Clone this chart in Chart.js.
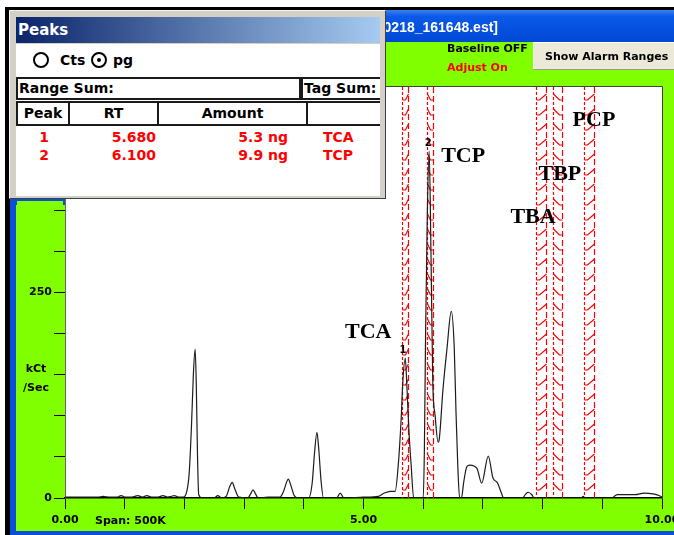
<!DOCTYPE html>
<html>
<head>
<meta charset="utf-8">
<script src="https://cdn.jsdelivr.net/npm/chart.js@4.4.1/dist/chart.umd.min.js"></script>
<style>
  html, body { margin: 0; padding: 0; background: #fff; }
  #wrap { position: relative; width: 674px; height: 535px; overflow: hidden; }
  #trace { position: absolute; left: 0; top: 0; }
  #peaks, #peaks * { font-family: "DejaVu Sans", sans-serif; font-weight: bold; box-sizing: border-box; }
  #peaks { position: absolute; left: 9px; top: 10px; width: 377px; height: 189px; background: #d4d0c8;
           border: 1px solid; border-color: #f4f4f4 #404040 #404040 #f4f4f4; }
  #peaks .cap { position: absolute; left: 6px; top: 6px; width: 364px; height: 26px; color: #fff;
                background: linear-gradient(to right, #0a246a, #a6caf0); font-size: 15px; line-height: 26px; padding-left: 2px; }
  #peaks .body { position: absolute; left: 6px; top: 33px; width: 364px; height: 152px; background: #fff; overflow: hidden; font-size: 14px; }
  .radio { position: absolute; top: 8px; width: 16px; height: 16px; border: 2px solid #000; border-radius: 50%; background: #fff; }
  .radio.on::after { content: ""; position: absolute; left: 4px; top: 4px; width: 4px; height: 4px; border-radius: 50%; background: #000; }
  .lbl { position: absolute; line-height: 18px; color: #000; }
  .box { position: absolute; border: 2px solid #1a1a1a; line-height: 19px; padding-left: 1px; white-space: nowrap; }
  .cell { position: absolute; top: 57px; height: 25px; border: 2px solid #1a1a1a; line-height: 21px; text-align: center; }
  .row { position: absolute; height: 18px; line-height: 18px; color: #ff0000; white-space: nowrap; }
</style>
</head>
<body>
<div id="wrap">
  <canvas id="trace" width="674" height="535"></canvas>
  <div id="peaks">
    <div class="cap">Peaks</div>
    <div class="body" id="peakBody">
      <div class="radio" style="left:17px"></div><div class="lbl" style="left:44px;top:7px">Cts</div>
      <div class="radio on" style="left:75px"></div><div class="lbl" style="left:97px;top:7px">pg</div>
      <div class="box" style="left:0;top:33px;width:285px;height:23px">Range Sum:</div>
      <div class="box" style="left:285px;top:33px;width:100px;height:23px">Tag Sum:</div>
      <div class="cell" style="left:0;width:54px">Peak</div>
      <div class="cell" style="left:52px;width:91px">RT</div>
      <div class="cell" style="left:141px;width:151px">Amount</div>
      <div class="cell" style="left:290px;width:100px"></div>
    </div>
  </div>
</div>
<script>
// chromatogram trace: retention time (min) and detector response (kCt/s)
const retentionTime = [
  0.00, 0.30, 0.55, 0.64, 0.75, 0.88, 0.94, 1.00, 1.12, 1.22, 1.30, 1.37, 1.45, 1.56, 1.64, 1.72, 1.78, 1.83, 1.90, 1.98,
  2.04, 2.08, 2.12, 2.15, 2.18, 2.20, 2.22, 2.24, 2.30, 2.50, 2.56, 2.62, 2.70, 2.76, 2.80, 2.84, 2.91,
  3.06, 3.11, 3.15, 3.19, 3.24, 3.40, 3.60, 3.66, 3.71, 3.74, 3.78, 3.84, 3.90,
  4.08, 4.14, 4.18, 4.22, 4.25, 4.29, 4.33, 4.55, 4.61, 4.67, 5.00, 5.25, 5.35, 5.45, 5.53,
  5.58, 5.63, 5.66, 5.70, 5.73, 5.76, 5.80, 5.84, 6.00, 6.02, 6.04, 6.07, 6.10, 6.13, 6.16, 6.20, 6.25, 6.27,
  6.33, 6.40, 6.47, 6.52, 6.55, 6.58, 6.61, 6.64, 6.68, 6.73, 6.78, 6.90, 6.98, 7.09, 7.17, 7.24, 7.30, 7.35,
  7.66, 7.72, 7.76, 7.82, 7.86, 8.65, 8.68, 8.71, 9.15, 9.25, 9.40, 9.55, 9.70, 9.85, 9.95, 10.00
];
const signal = [
  1, 1, 1, 2, 1, 1, 3, 1, 1, 3, 1, 3, 1, 1, 3, 1, 2, 3, 1, 1,
  8, 30, 90, 150, 181, 135, 50, 4, 0, 0, 3, 0, 2, 14, 19, 12, 1,
  0, 5, 10, 5, 0, 1, 1, 8, 19, 23, 16, 3, 0,
  0, 18, 55, 80, 60, 20, 0, 0, 6, 0, 1, 2, 6, 8, 8,
  38, 95, 143, 170, 131, 83, 38, 0, 0, 60, 200, 350, 422, 300, 143, 100, 68, 72,
  131, 183, 227, 183, 103, 38, 0, 0, 20, 38, 40, 36, 18, 51, 24, 19, 8, 0,
  0, 5, 7, 4, 0, 0, 2, 0, 0, 4, 4, 4, 6, 5, 3, 1
];

// integrated peaks
const peakNumber = [1, 2];
const peakRT = [5.680, 6.100];
const peakAmount = [5.3, 9.9];
const peakName = ['TCA', 'TCP'];

// alarm windows (min)
const alarmStart = [5.64, 6.06, 7.89, 8.17, 8.69];
const alarmEnd = [5.75, 6.17, 8.06, 8.33, 8.86];

// compound names written on the trace
const compoundLabel = ['TCA', 'TCP', 'TBA', 'TBP', 'PCP'];
const compoundTime = [5.08, 6.67, 7.84, 8.29, 8.86];
const compoundLevel = [202, 416, 341, 394, 459];

const yTickLabels = [0, 250];
const xTickLabels = [0, 5, 10];

// peak table rows
const body = document.getElementById('peakBody');
peakNumber.forEach((n, i) => {
  const top = 84 + i * 18;
  const cells = [
    [n, 'left:20px;width:16px;text-align:center'],
    [peakRT[i].toFixed(3), 'left:60px;width:80px;text-align:right'],
    [peakAmount[i].toFixed(1) + ' ng', 'left:160px;width:112px;text-align:right'],
    [peakName[i], 'left:307px;width:60px']
  ];
  cells.forEach(([txt, st]) => {
    const d = document.createElement('div');
    d.className = 'row';
    d.style.cssText = st + ';top:' + top + 'px';
    d.textContent = txt;
    body.appendChild(d);
  });
});

const UI = '"DejaVu Sans", sans-serif';

const chrome = {
  id: 'chrome',
  beforeDraw(chart) {
    const c = chart.ctx, a = chart.chartArea;
    c.save();
    c.fillStyle = '#fff';
    c.fillRect(0, 0, 674, 535);
    c.fillStyle = '#000';
    c.fillRect(5, 7, 669, 3);
    c.fillRect(5, 7, 5, 528);
    const g = c.createLinearGradient(0, 10, 0, 42);
    g.addColorStop(0, '#3a80f4');
    g.addColorStop(0.2, '#0a5ae8');
    g.addColorStop(1, '#0048d4');
    c.fillStyle = g;
    c.fillRect(10, 10, 664, 32);
    c.fillStyle = '#0b4fd6';
    c.fillRect(10, 42, 6, 493);
    c.fillRect(10, 531, 664, 4);
    c.fillStyle = '#80ff00';
    c.fillRect(16, 42, 658, 489);
    c.fillStyle = '#0b4fd6';
    c.fillRect(10, 199, 380, 6);
    c.fillStyle = '#80ff00';
    c.fillRect(17, 201, 46, 4);

    c.fillStyle = '#fff';
    c.font = 'bold 14px "Liberation Sans", sans-serif';
    c.textAlign = 'right';
    c.textBaseline = 'middle';
    c.fillText('Chromatogram - [20090218_161648.est]', 498, 28);

    c.textAlign = 'left';
    c.font = 'bold 11px ' + UI;
    c.fillStyle = '#000';
    c.fillText('Baseline OFF', 447, 49);
    c.fillStyle = '#ff0000';
    c.fillText('Adjust On', 447, 68);

    // button
    c.fillStyle = '#ece9d8';
    c.fillRect(533, 42, 141, 28);
    c.fillStyle = '#fff';
    c.fillRect(533, 42, 141, 1);
    c.fillRect(533, 42, 1, 28);
    c.fillStyle = '#9a9a9a';
    c.fillRect(533, 69, 141, 1);
    c.fillStyle = '#000';
    c.fillText('Show Alarm Ranges', 545, 57);

    c.textAlign = 'center';
    c.fillText('kCt', 36, 369);
    c.fillText('/Sec', 36, 388);
    c.textAlign = 'left';
    c.fillText('Span: 500K', 95, 521);

    c.fillStyle = '#fff';
    c.fillRect(a.left, a.top, a.right - a.left, a.bottom - a.top);
    c.restore();
  },
  afterDraw(chart) {
    const c = chart.ctx, a = chart.chartArea;
    c.save();
    c.strokeStyle = '#404040';
    c.lineWidth = 1;
    c.beginPath();
    c.moveTo(a.left, a.top - 0.5);
    c.lineTo(a.right + 0.5, a.top - 0.5);
    c.lineTo(a.right + 0.5, a.bottom);
    c.stroke();
    c.restore();
  }
};

// hatched alarm windows
const alarms = {
  id: 'alarms',
  beforeDatasetsDraw(chart) {
    const c = chart.ctx, a = chart.chartArea, xs = chart.scales.x;
    c.save();
    c.beginPath();
    c.rect(a.left, a.top, a.right - a.left, a.bottom - a.top);
    c.clip();
    c.strokeStyle = '#ff0000';
    c.lineWidth = 1.2;
    alarmStart.forEach((s, i) => {
      const x0 = Math.round(xs.getPixelForValue(s)) + 0.5;
      const x1 = Math.round(xs.getPixelForValue(alarmEnd[i])) + 0.5;
      c.setLineDash([3, 2]);
      c.beginPath();
      c.moveTo(x0, a.top);
      c.lineTo(x0, a.bottom);
      c.stroke();
      c.setLineDash([6, 3]);
      c.beginPath();
      c.moveTo(x1, a.top);
      c.lineTo(x1, a.bottom);
      c.stroke();
      c.setLineDash([]);
      c.beginPath();
      for (let y = a.top + 4; y < a.bottom - 8; y += 15) {
        if (i % 2 === 0) {
          c.moveTo(x0, y + 9);
          c.lineTo(x0 + 3, y + 9);
          c.lineTo(x1, y + 3);
        } else {
          c.moveTo(x0, y + 3);
          c.lineTo(x1 - 3, y + 9);
          c.lineTo(x1, y + 9);
        }
      }
      c.stroke();
    });
    c.restore();
  },
  afterDatasetsDraw(chart) {
    const c = chart.ctx, xs = chart.scales.x, ys = chart.scales.y;
    c.save();
    c.fillStyle = '#000';
    c.textAlign = 'center';
    c.textBaseline = 'middle';
    c.font = 'bold 22px "Liberation Serif", serif';
    compoundLabel.forEach((t, i) => {
      c.fillText(t, xs.getPixelForValue(compoundTime[i]), ys.getPixelForValue(compoundLevel[i]));
    });
    // peak numbers above the apex of each integrated peak
    c.font = 'bold 10px ' + UI;
    peakRT.forEach((rt, i) => {
      let top = 0;
      retentionTime.forEach((t, k) => { if (Math.abs(t - rt) <= 0.05) top = Math.max(top, signal[k]); });
      c.fillText(String(peakNumber[i]), xs.getPixelForValue(rt) - 1, ys.getPixelForValue(top) - 8);
    });
    c.restore();
  }
};

const tickFont = { family: UI, weight: 'bold', size: 11 };

new Chart(document.getElementById('trace'), {
  type: 'line',
  data: {
    datasets: [{
      data: retentionTime.map((t, i) => ({ x: t, y: signal[i] })),
      borderColor: '#1c1c1c',
      borderWidth: 1.2,
      pointRadius: 0,
      cubicInterpolationMode: 'monotone',
      fill: false
    }]
  },
  options: {
    responsive: false,
    animation: false,
    events: [],
    layout: { padding: { left: 0, top: 87, right: 12, bottom: 0 } },
    plugins: { legend: { display: false }, tooltip: { enabled: false } },
    scales: {
      x: {
        type: 'linear',
        min: 0,
        max: 10,
        afterFit: s => { s.height = 37; s.paddingLeft = 0; s.paddingRight = 0; },
        ticks: {
          stepSize: 1,
          autoSkip: false,
          maxRotation: 0,
          padding: 5,
          color: '#000',
          font: tickFont,
          callback: v => xTickLabels.includes(v) ? v.toFixed(2) : ''
        },
        grid: { drawOnChartArea: false, tickLength: 11, color: '#000' },
        border: { color: '#000', width: 1.5 }
      },
      y: {
        min: 0,
        max: 500,
        afterFit: s => { s.width = 65; s.paddingTop = 0; s.paddingBottom = 0; },
        ticks: {
          stepSize: 50,
          padding: 2,
          color: '#000',
          font: tickFont,
          callback: v => yTickLabels.includes(v) ? String(v) : ''
        },
        grid: { drawOnChartArea: false, tickLength: 11, color: '#000' },
        border: { color: '#666', width: 1 }
      }
    }
  },
  plugins: [chrome, alarms]
});
</script>
</body>
</html>
